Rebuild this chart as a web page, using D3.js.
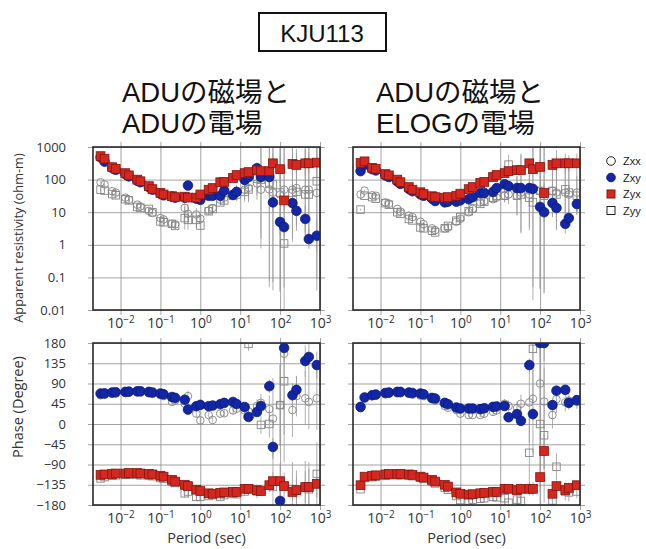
<!DOCTYPE html>
<html>
<head>
<meta charset="utf-8">
<script src="https://cdn.jsdelivr.net/npm/d3@7"></script>
<style>
  body { margin: 0; background: #fff; }
  svg { display: block; }
</style>
</head>
<body>
<div id="chart"></div>
<script>
// Period (sec)
const periods = [0.00316, 0.00398, 0.00617, 0.00759, 0.0132, 0.0162, 0.0263, 0.0316, 0.0513, 0.0631,
  0.1, 0.12, 0.195, 0.234, 0.407, 0.49, 0.794, 1, 1.62, 2.04,
  3.16, 3.98, 6.61, 8.13, 12.9, 16.2, 26.3, 33.1, 53.7, 66.1,
  100, 126, 204, 257, 427, 525, 832];

// ADUの磁場とADUの電場 : apparent resistivity (ohm-m)
const rhoXyA = [479, 355, 229, 200, 148, 126, 93, 83, 59, 49, 37, 33, 30, 28, 28, 66, 26, 24, 32, 32,
  32, 46, 34, 42, 98, 120, 224, 120, 120, 20, 5.0, 3.5, 19, 11, 6.2, 1.5, 1.9];
const rhoYxA = [525, 437, 240, 214, 158, 135, 100, 89, 63, 51, 39, 35, 31, 29, 30, 28, 28, 35, 49, 55,
  83, 85, 112, 138, 158, 170, 195, 182, 182, 316, 209, 23, 302, 282, 316, 316, 331];
const rhoXxA = [83, 71, 44, 40, 28, 24, 17, 15, 11, 9.5, 6.6, 6.0, 4.4, 4.2, 13.5, 8.9, 8.5, 6.3, 11.2, 13.5,
  24, 28, 36, 44, 49, 56, 76, 49, 50, 40, 35, 49, 49, 55, 49, 49, 39];
const rhoYyA = [49, 46, 36, 33, 25, 23, 14.5, 13.5, 12.6, 10, 5.2, 4.9, 4.4, 3.8, 6.6, 5.8, 5.8, 3.9, 10.7, 12.6,
  20, 23, 32, 35, 42, 50, 105, 100, 76, 71, 40, 1.1, 39, 42, 35, 35, 89];

// ADUの磁場とELOGの電場 : apparent resistivity (ohm-m)
const rhoXyE = [182, 282, 209, 191, 135, 120, 89, 74, 52, 44, 35, 32, 26, 22, 20, 21, 21, 23, 25, 29,
  39, 39, 42, 55, 72, 63, 55, 55, 55, 52, 14.5, 10, 19, 13.5, 4.4, 6.6, 17.8];
const rhoYxE = [324, 363, 229, 214, 148, 135, 100, 83, 59, 49, 41, 36, 31, 29, 28, 29, 32, 37, 51, 59,
  79, 85, 120, 138, 158, 182, 195, 195, 316, 209, 245, 39, 282, 316, 316, 316, 316];
const rhoXxE = [35, 46, 33, 32, 20, 18, 12.6, 10.5, 7.8, 7.1, 5.1, 4.3, 3.2, 2.8, 3.2, 3.4, 5.1, 6.3, 10, 12.6,
  20, 22, 25, 28, 32, 35, 32, 40, 35, 50, 45, 35, 45, 40, 40, 35, 40];
const rhoYyE = [12, 32, 29, 26, 19, 17, 10, 8.9, 6.2, 5.6, 3.4, 3.2, 2.7, 2.4, 3.2, 3.8, 5.5, 7.1, 10.7, 13,
  18, 21, 28, 32, 32, 288, 32, 35, 28, 20, 45, 32, 45, 35, 50, 40, 32];

// Phase (Degree)
const phXyA = [67.7, 68, 70, 70.6, 71.4, 72, 72.8, 72.8, 71.4, 70, 67.7, 66, 60, 58, 54, 32, 39.6, 42.5, 39.6, 41,
  44, 47, 49, 44.4, 37.8, 15.6, 26.7, 40, 84, -51, -171, 169, 64, 76, 140, 149, 131];
const phYxA = [-113, -112, -111, -110, -110, -109, -109, -110, -111, -112, -115, -117, -124, -128, -135, -138, -146, -149, -154, -155,
  -153, -152, -151, -151, -144, -144, -147, -149, -136, -127, -127, -138, -151, -147, -140, -140, -133];
const phXxA = [64, 65, 67, 68, 69, 70, 70, 70, 68, 67, 64, 62, 49, 52, 45, 62, 23, 8, 20, 9,
  23, 24, 30, 34, 30, 28, 40, 47, 33, 12, 42, 156, 31, 62, 57, 49, 57];
const phYyA = [-121, -118, -115, -114, -113, -113, -113, -114, -115, -116, -120, -122, -128, -131, -154, -150, -162, -162, -160, -158,
  -162, -158, -155, -156, -150, 178, -150, -2, 0, -140, 42, 95, -145, -148, -142, -145, -111];

const phXyE = [38, 59, 64, 65.5, 69, 70, 71.4, 71.4, 70, 69, 67.7, 66, 58, 56.6, 47, 44, 36.6, 34.4, 34.4, 34.4,
  33, 35, 38, 39, 40, 15, 22, 7, 131, 22, 180, 180, 42, 74, 76, 47, 53];
const phYxE = [-136, -117, -115, -114, -112, -111, -111, -111, -112, -113, -117, -119, -124, -128, -135, -139, -152, -155, -157, -156,
  -154, -153, -151, -151, -144, -144, -147, -144, -144, -144, -118, -60, -155, -138, -147, -142, -136];
const phXxE = [35, 57, 62, 63, 66, 67, 68, 68, 67, 65, 63, 62, 55, 52, 40, 36, 31, 23, 20, 20,
  20, 23, 27, 30, 45, 40, 35, 45, 48, 56, 90, 50, 20, 55, 48, 52, 49];
const phYyE = [-145, -120, -118, -117, -115, -114, -114, -114, -115, -116, -119, -122, -128, -132, -142, -146, -160, -169, -170, -168,
  -166, -165, -162, -163, -165, -175, -168, -171, -64, 167, 0, -25, -170, -95, -150, -152, -150];

// error half-widths: resistivity in log10 units, phase in degrees
const errRhoOffA = [0.02, 0.02, 0.02, 0.02, 0.02, 0.02, 0.02, 0.02, 0.02, 0.02, 0.02, 0.02, 0.03, 0.03, 0.03, 0.1, 0.04, 0.04, 0.04, 0.04,
  0.05, 0.05, 0.05, 0.05, 0.06, 0.08, 0.1, 0.12, 0.2, 0.3, 0.4, 0.3, 0.3, 0.35, 0.4, 0.3, 0.5];
const errRhoDiagA = [0.03, 0.03, 0.03, 0.03, 0.04, 0.04, 0.04, 0.04, 0.05, 0.05, 0.06, 0.06, 0.08, 0.08, 0.35, 0.3, 0.2, 0.15, 0.1, 0.1,
  0.1, 0.12, 0.15, 0.2, 0.3, 0.4, 0.5, 1.8, 3, 3, 3, 3, 1.5, 1.2, 1.4, 1.5, 3];
const errRhoOffE = [0.02, 0.02, 0.02, 0.02, 0.02, 0.02, 0.02, 0.02, 0.02, 0.02, 0.02, 0.02, 0.02, 0.02, 0.02, 0.02, 0.02, 0.02, 0.02, 0.02,
  0.03, 0.03, 0.04, 0.05, 0.06, 0.06, 0.08, 0.08, 0.1, 0.12, 0.2, 0.3, 0.2, 0.4, 0.3, 0.25, 0.3];
const errRhoDiagE = [0.03, 0.03, 0.03, 0.03, 0.04, 0.04, 0.04, 0.04, 0.05, 0.05, 0.05, 0.05, 0.06, 0.06, 0.06, 0.06, 0.06, 0.06, 0.07, 0.07,
  0.08, 0.1, 0.12, 0.15, 0.2, 0.3, 0.6, 1.2, 1.0, 3, 3, 3, 0.8, 1.1, 0.8, 0.9, 0.6];
const errPhOffA = [1, 1, 1, 1, 1, 1, 1, 1, 1, 1, 1, 1, 1, 1, 2, 3, 3, 3, 3, 3,
  3, 3, 3, 4, 5, 6, 8, 10, 15, 20, 40, 30, 20, 30, 35, 40, 30];
const errPhDiagA = [2, 2, 2, 2, 2, 2, 2, 2, 3, 3, 3, 3, 4, 4, 10, 12, 8, 8, 6, 6,
  6, 7, 8, 8, 10, 15, 15, 20, 30, 90, 90, 180, 60, 45, 60, 60, 70];
const errPhOffE = [1, 1, 1, 1, 1, 1, 1, 1, 1, 1, 1, 1, 1, 1, 2, 2, 2, 2, 2, 2,
  2, 3, 3, 3, 4, 6, 8, 12, 15, 15, 30, 40, 10, 12, 10, 12, 10];
const errPhDiagE = [2, 2, 2, 2, 2, 2, 2, 2, 3, 3, 3, 3, 4, 4, 6, 6, 5, 5, 5, 5,
  6, 7, 8, 8, 10, 12, 15, 20, 90, 120, 180, 150, 30, 30, 20, 20, 15];

const rhoTicks = [1000, 100, 10, 1, 0.1, 0.01];
const rhoTickLabels = ["1000", "100", "10", "1", "0.1", "0.01"];
const phTicks = [180, 135, 90, 45, 0, -45, -90, -135, -180];
const periodTicks = [0.01, 0.1, 1, 10, 100, 1000];
const periodExp = ["\u22122", "\u22121", "0", "1", "2", "3"];
const legendKeys = ["Zxx", "Zxy", "Zyx", "Zyy"];

const W = 646, H = 549;
const pw = 227, phR = 163, phP = 162;
const colX = [93, 353];
const rowY = [147, 343];

const svg = d3.select("#chart").append("svg")
  .attr("width", W).attr("height", H);

const x = d3.scaleLog().domain([Math.pow(10, -2.69), 1000]).range([0, pw]);
const yRho = d3.scaleLog().domain([0.01, 1000]).range([phR, 0]);
const yPh = d3.scaleLinear().domain([-180, 180]).range([phP, 0]);

const style = {
  Zxx: { shape: "circle", fill: "none", stroke: "#858585" },
  Zxy: { shape: "circle", fill: "#1226a6", stroke: "#0b1a7a" },
  Zyx: { shape: "square", fill: "#d3271f", stroke: "#86160f" },
  Zyy: { shape: "square", fill: "none", stroke: "#858585" }
};

// title box
svg.append("rect").attr("x", 259).attr("y", 13).attr("width", 127).attr("height", 38)
  .attr("fill", "none").attr("stroke", "#111").attr("stroke-width", 2);
svg.append("text").attr("x", 322).attr("y", 42).attr("text-anchor", "middle")
  .style("font-family", "Liberation Sans, Arial, sans-serif").style("font-size", "24px")
  .attr("fill", "#111").text("KJU113");

// panel titles
const titles = [["ADUの磁場と", "ADUの電場"], ["ADUの磁場と", "ELOGの電場"]];
titles.forEach((t, i) => {
  t.forEach((line, j) => {
    svg.append("text").attr("x", [122, 376][i]).attr("y", 102 + j * 31)
      .style("font-family", "Liberation Sans, 'Noto Sans CJK JP', sans-serif")
      .style("font-size", "27.5px").attr("fill", "#111").text(line);
  });
});

function drawPanel(col, row, kind, series) {
  const g = svg.append("g").attr("transform", `translate(${colX[col]},${rowY[row]})`);
  const h = kind === "rho" ? phR : phP;
  const y = kind === "rho" ? yRho : yPh;
  const clipId = `clip-${col}-${row}`;
  g.append("clipPath").attr("id", clipId).append("rect")
    .attr("width", pw).attr("height", h);

  // vertical grid + x labels
  const gx = g.append("g").attr("transform", "translate(0,-5)")
    .call(d3.axisBottom(x).tickValues(periodTicks).tickSize(h + 10).tickPadding(3).tickFormat(""));
  gx.select(".domain").remove();
  gx.selectAll(".tick line").attr("stroke", "#8c8c8c").attr("stroke-width", 0.8);
  gx.selectAll(".tick text").each(function(d, i) {
    const t = d3.select(this);
    t.attr("fill", "#333").style("font-family", "'Open Sans', sans-serif").style("font-size", "14px");
    t.append("tspan").text("10");
    t.append("tspan").attr("dy", "-0.45em").style("font-size", "10px").text(periodExp[i]);
  });

  // horizontal grid + y labels
  const ticks = kind === "rho" ? rhoTicks : phTicks;
  const gy = g.append("g").attr("transform", `translate(${pw + 5},0)`)
    .call(d3.axisLeft(y).tickValues(ticks).tickSize(pw + 10).tickPadding(col === 0 ? 22 : 0)
      .tickFormat((d, i) => col === 0 ? (kind === "rho" ? rhoTickLabels[i] : (d < 0 ? "\u2212" + (-d) : d)) : ""));
  gy.select(".domain").remove();
  gy.selectAll(".tick line").attr("stroke", "#8c8c8c").attr("stroke-width", 0.8);
  gy.selectAll(".tick text").attr("fill", "#333")
    .style("font-family", "'Open Sans', sans-serif").style("font-size", "13px");

  const data = g.append("g").attr("clip-path", `url(#${clipId})`);

  // error bars
  series.forEach(s => {
    data.append("g").selectAll("line").data(periods).join("line")
      .attr("x1", d => x(d)).attr("x2", d => x(d))
      .attr("y1", (d, i) => kind === "rho" ? y(s.val[i] * Math.pow(10, s.err[i])) : y(s.val[i] + s.err[i]))
      .attr("y2", (d, i) => kind === "rho" ? y(Math.max(1e-4, s.val[i] / Math.pow(10, s.err[i]))) : y(s.val[i] - s.err[i]))
      .attr("stroke", "#9a9a9a").attr("stroke-width", 0.8);
  });

  // symbols
  series.forEach(s => {
    const st = style[s.key];
    const sel = data.append("g").selectAll(".pt").data(periods).join(st.shape === "circle" ? "circle" : "rect");
    if (st.shape === "circle") {
      sel.attr("cx", d => x(d)).attr("cy", (d, i) => y(s.val[i]))
        .attr("r", st.fill === "none" ? 3.8 : 4.8);
    } else {
      const sz = st.fill === "none" ? 7.5 : 8.8;
      sel.attr("x", d => x(d) - sz / 2).attr("y", (d, i) => y(s.val[i]) - sz / 2)
        .attr("width", sz).attr("height", sz);
    }
    sel.attr("fill", st.fill).attr("stroke", st.stroke).attr("stroke-width", st.fill === "none" ? 0.9 : 0.8);
  });

  // frame
  g.append("rect").attr("width", pw).attr("height", h)
    .attr("fill", "none").attr("stroke", "#2a2a2a").attr("stroke-width", 1.6);
}

drawPanel(0, 0, "rho", [
  { key: "Zxx", val: rhoXxA, err: errRhoDiagA },
  { key: "Zyy", val: rhoYyA, err: errRhoDiagA },
  { key: "Zxy", val: rhoXyA, err: errRhoOffA },
  { key: "Zyx", val: rhoYxA, err: errRhoOffA }
]);
drawPanel(1, 0, "rho", [
  { key: "Zxx", val: rhoXxE, err: errRhoDiagE },
  { key: "Zyy", val: rhoYyE, err: errRhoDiagE },
  { key: "Zxy", val: rhoXyE, err: errRhoOffE },
  { key: "Zyx", val: rhoYxE, err: errRhoOffE }
]);
drawPanel(0, 1, "ph", [
  { key: "Zxx", val: phXxA, err: errPhDiagA },
  { key: "Zyy", val: phYyA, err: errPhDiagA },
  { key: "Zxy", val: phXyA, err: errPhOffA },
  { key: "Zyx", val: phYxA, err: errPhOffA }
]);
drawPanel(1, 1, "ph", [
  { key: "Zxx", val: phXxE, err: errPhDiagE },
  { key: "Zyy", val: phYyE, err: errPhDiagE },
  { key: "Zxy", val: phXyE, err: errPhOffE },
  { key: "Zyx", val: phYxE, err: errPhOffE }
]);

// axis titles
const axisFont = "'Open Sans', sans-serif";
svg.append("text").attr("transform", "translate(23,238) rotate(-90)").attr("text-anchor", "middle")
  .style("font-family", axisFont).style("font-size", "12.8px").attr("fill", "#333")
  .text("Apparent resistivity (ohm-m)");
svg.append("text").attr("transform", "translate(23,407) rotate(-90)").attr("text-anchor", "middle")
  .style("font-family", axisFont).style("font-size", "14.5px").attr("fill", "#333")
  .text("Phase (Degree)");
colX.forEach(cx => {
  svg.append("text").attr("x", cx + pw / 2).attr("y", 543).attr("text-anchor", "middle")
    .style("font-family", axisFont).style("font-size", "14.5px").attr("fill", "#333")
    .text("Period (sec)");
});

// legend
const lg = svg.append("g").attr("transform", "translate(611,161)");
legendKeys.forEach((k, i) => {
  const st = style[k];
  const row = lg.append("g").attr("transform", `translate(0,${i * 16.5})`);
  if (st.shape === "circle") {
    row.append("circle").attr("r", 4.3).attr("fill", st.fill === "none" ? "#fff" : st.fill)
      .attr("stroke", st.fill === "none" ? "#222" : st.stroke).attr("stroke-width", 1);
  } else {
    row.append("rect").attr("x", -4).attr("y", -4).attr("width", 8).attr("height", 8)
      .attr("fill", st.fill === "none" ? "#fff" : st.fill)
      .attr("stroke", st.fill === "none" ? "#222" : st.stroke).attr("stroke-width", 1);
  }
  row.append("text").attr("x", 12).attr("y", 4)
    .style("font-family", "Liberation Sans, Arial, sans-serif").style("font-size", "11px")
    .attr("fill", "#222").text(k);
});
</script>
</body>
</html>
